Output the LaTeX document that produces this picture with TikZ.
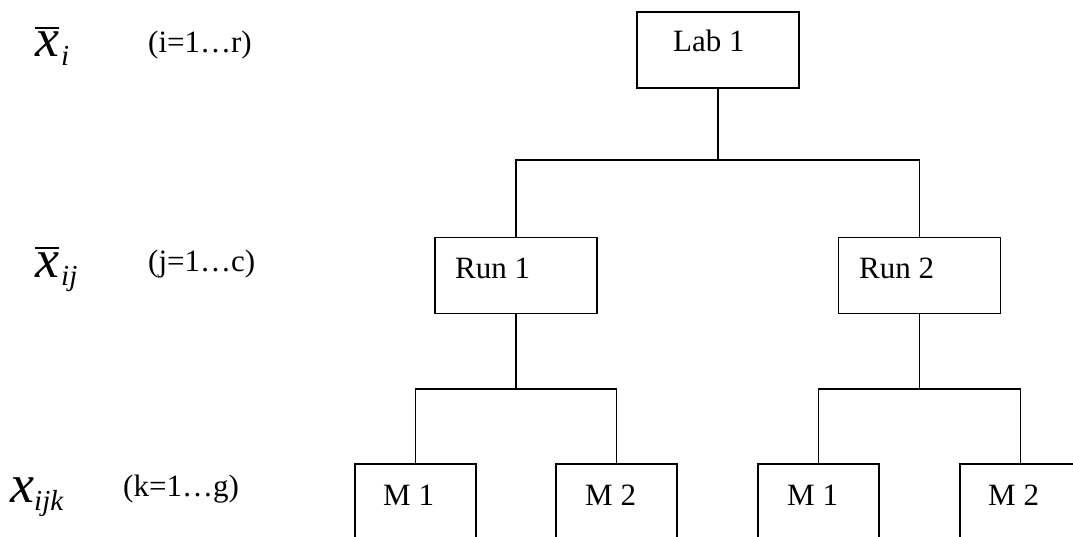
\documentclass[tikz,border=0pt]{standalone}
\usepackage{fontspec}
\setmainfont{Liberation Serif}
\begin{document}
\begin{tikzpicture}[x=1pt,y=-1pt,
  box/.style={draw, line width=1.7pt, minimum width=162pt, minimum height=76pt, inner sep=0pt, outer sep=0pt},
  leaf/.style={box, minimum width=121pt, minimum height=110pt},
  tag/.style={anchor=base west, inner sep=0pt, font=\fontsize{31}{31}\selectfont},
  sym/.style={anchor=base west, inner sep=0pt, font=\fontsize{54}{54}\selectfont\itshape},
  subs/.style={anchor=base west, inner sep=0pt, font=\fontsize{29}{29}\selectfont\itshape},
  bar/.style={line width=1.8pt},
  link/.style={line width=1.7pt}]
\useasboundingbox (0,0) rectangle (1073,537);
\clip (0,0) rectangle (1073,537);

% level labels on the left
\node[sym]  (xb1) at (35,57) {x};
\node[subs] (xb1s) at (61,66) {i};
\node[tag]  (r1) at (148,53) {(i=1…r)};
\draw[bar] ([yshift=4pt]xb1.north west) -- ([yshift=4pt]xb1.north east);

\node[sym]  (xb2) at (35,277) {x};
\node[subs] (xb2s) at (61,286) {ij};
\node[tag]  (r2) at (148,272) {(j=1…c)};
\draw[bar] ([yshift=4pt]xb2.north west) -- ([yshift=4pt]xb2.north east);

\node[sym]  (x3) at (10,502) {x};
\node[subs] (x3s) at (34,510) {ijk};
\node[tag]  (r3) at (123,496) {(k=1…g)};

% tree boxes
\node[box] (lab) at (718,50) {};
\node[box] (run1) at (516,275.5) {};
\node[box] (run2) at (919.5,275.5) {};
\node[leaf] (m11) at (415.5,519) {};
\node[leaf] (m12) at (616.5,519) {};
\node[leaf] (m21) at (818.5,519) {};
\node[leaf] (m22) at (1020.5,519) {};

% box captions
\node[tag] (labt) at (673,52) {Lab 1};
\node[tag] (run1t) at (455,279) {Run 1};
\node[tag] (run2t) at (859,279) {Run 2};
\node[tag] (m11t) at (383,505) {M 1};
\node[tag] (m12t) at (585,505) {M 2};
\node[tag] (m21t) at (787,505) {M 1};
\node[tag] (m22t) at (988,505) {M 2};

% branch points
\coordinate (hubA) at (718,160);
\coordinate (hubB) at (516,389);
\coordinate (hubC) at (919.5,389);

% connectors
\draw[link] (lab.south) -- (hubA);
\draw[link] (run1.north) |- (hubA) -| (run2.north);
\draw[link] (run1.south) -- (hubB);
\draw[link] (m11.north) |- (hubB) -| (m12.north);
\draw[link] (run2.south) -- (hubC);
\draw[link] (m21.north) |- (hubC) -| (m22.north);
\end{tikzpicture}
\end{document}
